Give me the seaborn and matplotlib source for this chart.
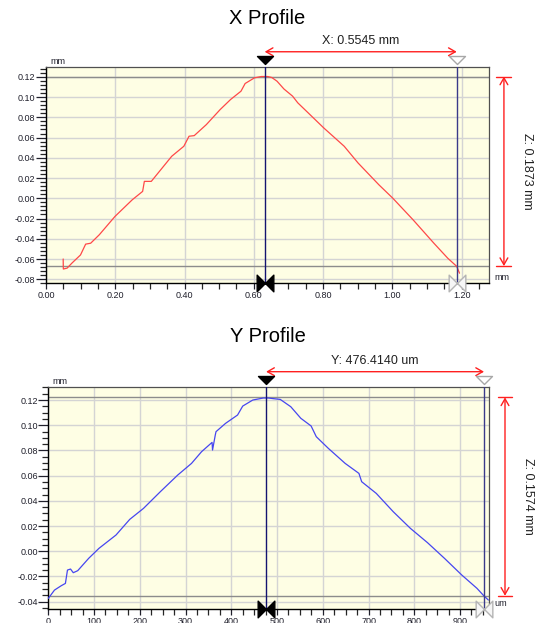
import numpy as np
import pandas as pd
import matplotlib
matplotlib.use("Agg")
import matplotlib.pyplot as plt
import matplotlib.transforms as mtransforms
from matplotlib.path import Path
from matplotlib.ticker import MultipleLocator, FormatStrFormatter
import seaborn as sns

# ---------------- data ----------------
x_prof_x = [0.0496, 0.0500, 0.061, 0.075, 0.0996, 0.1145, 0.129, 0.154, 0.199, 0.249,
            0.279, 0.284, 0.304, 0.363, 0.398, 0.413, 0.428, 0.463, 0.503, 0.533,
            0.563, 0.575, 0.602, 0.622, 0.640, 0.652, 0.667, 0.687, 0.712, 0.727,
            0.757, 0.802, 0.861, 0.901, 0.961, 1.001, 1.060, 1.120, 1.160, 1.186, 1.194]
x_prof_z = [-0.060, -0.0699, -0.069, -0.064, -0.056, -0.0453, -0.0444, -0.036, -0.018, -0.0015,
            0.0068, 0.0167, 0.0167, 0.0415, 0.0514, 0.0613, 0.0619, 0.0728, 0.0877, 0.0976,
            0.1058, 0.1134, 0.1190, 0.1203, 0.1203, 0.1193, 0.1157, 0.1080, 0.1009, 0.0943,
            0.0844, 0.0695, 0.0514, 0.0349, 0.0134, 0.0002, -0.0213, -0.0444, -0.0592, -0.0673, -0.074]

y_prof_y = [0, 13.5, 28.4, 37.4, 41.9, 48.6, 54.6, 64.3, 88.3, 110.7,
            148, 178, 208, 245, 283, 313, 335, 358, 359, 365,
            366.6, 387.5, 413.7, 425, 447, 470, 481, 492, 507, 530,
            552, 574.5, 585.8, 612, 649, 679, 685, 717, 754, 791.5,
            829, 866, 904, 937, 952, 962]
y_prof_z = [-0.0374, -0.0308, -0.0273, -0.0255, -0.0149, -0.0141, -0.0170, -0.0154, -0.0056, 0.0023,
            0.0129, 0.0253, 0.0340, 0.0473, 0.0605, 0.0697, 0.0790, 0.0864, 0.0803, 0.0922,
            0.0949, 0.1015, 0.1081, 0.1152, 0.1200, 0.1216, 0.1216, 0.1211, 0.1205, 0.1147,
            0.1055, 0.0994, 0.0909, 0.0817, 0.0697, 0.0618, 0.0552, 0.0459, 0.0314, 0.0182,
            0.0068, -0.0056, -0.0189, -0.0294, -0.0353, -0.0387]

titles = ["X Profile", "Y Profile"]
cursor1 = [0.6315, 476.1]
cursor2 = [1.186, 952.5]
z_top = [0.1203, 0.1221]
z_bot = [-0.0670, -0.0353]
dx_labels = ["X: 0.5545 mm", "Y: 476.4140 um"]
dz_labels = ["Z: 0.1873 mm", "Z: 0.1574 mm"]
x_units = ["mm", "um"]

# ---------------- style ----------------
sns.set_style("white")
plt.rcParams['font.family'] = ['Liberation Sans', 'DejaVu Sans']

W, H = 537, 623
fig = plt.figure(figsize=(W / 100, H / 100), dpi=100)

def px_axes(l, t, r, b):
    return fig.add_axes([l / W, 1 - b / H, (r - l) / W, (b - t) / H])

ax1 = px_axes(46, 66.7, 489.3, 283.3)
ax2 = px_axes(48.3, 387.3, 489.3, 609)

bg = '#FEFEE4'
tick_col = '#20202c'

tri_down = Path([(-1, 0.5), (1, 0.5), (0, -0.5), (-1, 0.5)],
                [Path.MOVETO, Path.LINETO, Path.LINETO, Path.CLOSEPOLY])
bowtie = Path([(-1, 1), (-1, -1), (0, 0), (-1, 1), (1, 1), (1, -1), (0, 0), (1, 1)],
              [Path.MOVETO, Path.LINETO, Path.LINETO, Path.CLOSEPOLY,
               Path.MOVETO, Path.LINETO, Path.LINETO, Path.CLOSEPOLY])

configs = [
    dict(ax=ax1, x=x_prof_x, z=x_prof_z, color='#FF4848', xlim=(0, 1.28), ylim=(-0.084, 0.130),
         xmaj=0.2, xmin=0.05, ymaj=0.02, ymin=0.004, xfmt='%.2f', title_y=18.5,
         arrow_y=1.069, text_y=1.120, tri_y=1.031, varrow_x=1.033, ztext_x=1.085),
    dict(ax=ax2, x=y_prof_y, z=y_prof_z, color='#4646F0', xlim=(0, 964), ylim=(-0.0458, 0.1301),
         xmaj=100, xmin=25, ymaj=0.02, ymin=0.005, xfmt='%d', title_y=337,
         arrow_y=1.0704, text_y=1.120, tri_y=1.035, varrow_x=1.0356, ztext_x=1.087),
]

for i, c in enumerate(configs):
    ax = c['ax']
    df = pd.DataFrame({'pos': c['x'], 'z': c['z']})
    ax.set_facecolor(bg)
    ax.set_axisbelow(True)
    sns.lineplot(data=df, x='pos', y='z', ax=ax, color=c['color'], lw=0.9, sort=False,
                 estimator=None, zorder=3)
    ax.set_xlim(*c['xlim'])
    ax.set_ylim(*c['ylim'])
    ax.set_xlabel('')
    ax.set_ylabel('')
    ax.xaxis.set_major_locator(MultipleLocator(c['xmaj']))
    ax.xaxis.set_minor_locator(MultipleLocator(c['xmin']))
    ax.yaxis.set_major_locator(MultipleLocator(c['ymaj']))
    ax.yaxis.set_minor_locator(MultipleLocator(c['ymin']))
    ax.xaxis.set_major_formatter(FormatStrFormatter(c['xfmt']))
    ax.yaxis.set_major_formatter(FormatStrFormatter('%.2f'))
    ax.grid(True, which='major', color='#D4D4D4', lw=1.0)
    ax.tick_params(axis='y', which='major', length=7.2, width=0.9, direction='out', pad=0.3,
                   labelsize=6.5, colors=tick_col, left=True)
    ax.tick_params(axis='y', which='minor', length=4.3, width=0.9, direction='out', left=True)
    ax.tick_params(axis='x', which='major', length=4, width=0.9, direction='out', pad=1.5,
                   labelsize=6.5, colors=tick_col, bottom=True)
    ax.tick_params(axis='x', which='minor', length=4, width=0.9, direction='out', bottom=True)
    for s in ['left', 'bottom']:
        ax.spines[s].set_color('black')
        ax.spines[s].set_linewidth(1.0)
    for s in ['top', 'right']:
        ax.spines[s].set_color('#505050')
        ax.spines[s].set_linewidth(0.9)

    # horizontal Z cursor lines
    ax.axhline(c_top := z_top[i], color='#8C8C8C', lw=1.0, zorder=2)
    ax.axhline(z_bot[i], color='#8C8C8C', lw=1.0, zorder=2)
    # vertical cursors
    ax.axvline(cursor1[i], color='#141470', lw=1.0, zorder=4)
    ax.axvline(cursor2[i], color='#3A3A8A', lw=1.0, zorder=4)

    tx = mtransforms.blended_transform_factory(ax.transData, ax.transAxes)
    ty = mtransforms.blended_transform_factory(ax.transAxes, ax.transData)

    # top triangle markers
    ax.plot([cursor1[i]], [c['tri_y']], marker=tri_down, ms=11.5, color='black',
            transform=tx, clip_on=False, zorder=6)
    ax.plot([cursor2[i]], [c['tri_y']], marker=tri_down, ms=11.5, mfc='white', mec='#A8A8A8',
            mew=1.0, transform=tx, clip_on=False, zorder=6)
    # bottom bowtie markers
    ax.plot([cursor1[i]], [0], marker=bowtie, ms=12, color='black',
            transform=tx, clip_on=False, zorder=6)
    ax.plot([cursor2[i]], [0], marker=bowtie, ms=12, mfc='#F6F6F6', mec='#B4B4B4',
            mew=1.0, transform=tx, clip_on=False, zorder=6)

    # horizontal dimension arrow
    ax.annotate('', xy=(cursor2[i], c['arrow_y']), xytext=(cursor1[i], c['arrow_y']),
                xycoords=tx, textcoords=tx,
                arrowprops=dict(arrowstyle='<->,head_length=0.35,head_width=0.2',
                                color='#FF2020', lw=1.0, shrinkA=0, shrinkB=0,
                                mutation_scale=14), annotation_clip=False)
    ax.text((cursor1[i] + cursor2[i]) / 2, c['text_y'], dx_labels[i], transform=tx,
            ha='center', va='center', fontsize=9, color='#202020')

    # vertical dimension arrow
    vx = c['varrow_x']
    ax.annotate('', xy=(vx, z_bot[i]), xytext=(vx, z_top[i]),
                xycoords=ty, textcoords=ty,
                arrowprops=dict(arrowstyle='<->,head_length=0.35,head_width=0.2',
                                color='#FF2020', lw=1.0, shrinkA=0, shrinkB=0,
                                mutation_scale=14), annotation_clip=False)
    for zz in (z_top[i], z_bot[i]):
        ax.plot([vx - 0.017, vx + 0.017], [zz, zz], color='#FF2020', lw=1.0,
                transform=ty, clip_on=False)
    ax.text(c['ztext_x'], (z_top[i] + z_bot[i]) / 2, dz_labels[i], transform=ty,
            rotation=270, ha='center', va='center', fontsize=9, color='#202020')

    # unit labels
    ax.text(0.01, 1.005, 'mm', transform=ax.transAxes, ha='left', va='bottom',
            fontsize=6.5, color=tick_col)
    ax.text(1.012, 0.025, x_units[i], transform=ax.transAxes, ha='left', va='center',
            fontsize=6.5, color=tick_col)

    # title
    fig.text(267.5 / W, 1 - c['title_y'] / H, titles[i], ha='center', va='center',
             fontsize=14.5, color='black')

fig.savefig('out.png', dpi=100)
